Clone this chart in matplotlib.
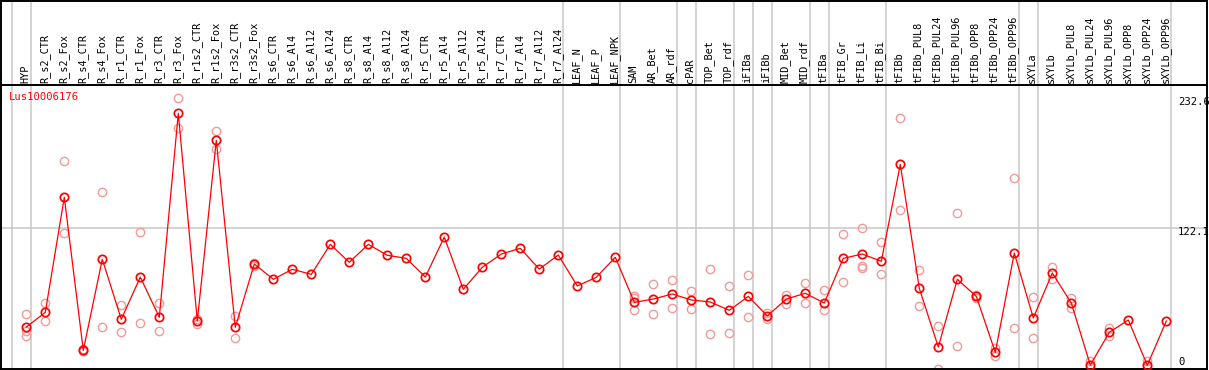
import numpy as np
import matplotlib
matplotlib.use("Agg")
import matplotlib.pyplot as plt

nan = np.nan

samples = ["HYP", "R_s2_CTR", "R_s2_Fox", "R_s4_CTR", "R_s4_Fox", "R_r1_CTR", "R_r1_Fox",
           "R_r3_CTR", "R_r3_Fox", "R_r1s2_CTR", "R_r1s2_Fox", "R_r3s2_CTR", "R_r3s2_Fox",
           "R_s6_CTR", "R_s6_Al4", "R_s6_Al12", "R_s6_Al24", "R_s8_CTR", "R_s8_Al4",
           "R_s8_Al12", "R_s8_Al24", "R_r5_CTR", "R_r5_Al4", "R_r5_Al12", "R_r5_Al24",
           "R_r7_CTR", "R_r7_Al4", "R_r7_Al12", "R_r7_Al24", "LEAF_N", "LEAF_P", "LEAF_NPK",
           "SAM", "AR_Bet", "AR_rdf", "cPAR", "TOP_Bet", "TOP_rdf", "iFIBa", "iFIBb",
           "MID_Bet", "MID_rdf", "tFIBa", "tFIB_Gr", "tFIB_Li", "tFIB_Bi", "tFIBb",
           "tFIBb_PUL8", "tFIBb_PUL24", "tFIBb_PUL96", "tFIBb_OPP8", "tFIBb_OPP24",
           "tFIBb_OPP96", "sXYLa", "sXYLb", "sXYLb_PUL8", "sXYLb_PUL24", "sXYLb_PUL96",
           "sXYLb_OPP8", "sXYLb_OPP24", "sXYLb_OPP96"]

mean_vals = [38.2, 50.7, 148.5, 18.4, 95.8, 44.8, 80.7, 46.5, 219.9, 43.3, 196.9, 38.0, 91.8,
             78.8, 87.3, 83.0, 108.5, 93.2, 108.5, 99.2, 96.6, 80.7, 114.7, 70.3, 89.0,
             100.3, 105.1, 87.5, 99.4, 73.1, 80.5, 97.5,
             59.2, 62.0, 66.3, 61.2, 59.5, 52.4, 64.3, 47.6, 62.0, 66.9, 58.6,
             96.6, 100.3, 94.1, 176.5, 71.1, 21.2, 78.8, 64.3, 16.7, 101.1,
             45.9, 84.1, 58.6, 5.9, 33.7, 44.2, 5.7, 43.3]

rep_hi = [49.3, 58.6, 179.3, 19.5, 153.0, 56.7, 118.7, 58.4, 232.6, 45.0, 204.8, 47.6, 93.0,
          nan, nan, nan, nan, nan, nan, nan, nan, nan, nan, nan, nan, nan, nan, nan, nan,
          nan, nan, nan,
          64.6, 74.8, 77.9, 68.8, 87.3, 72.8, 82.4, 49.9, 65.4, 75.6, 69.4,
          117.0, 122.1, 110.2, 215.9, 86.4, 39.4, 134.9, 65.5, 20.1, 164.9,
          63.5, 89.2, 63.2, 9.3, 37.1, nan, 9.3, nan]

rep_lo = [30.3, 43.1, 117.9, 17.5, 38.2, 33.7, 41.4, 34.6, 207.7, 40.5, 189.3, 28.9, 90.5,
          nan, nan, nan, nan, nan, nan, nan, nan, nan, nan, nan, nan, nan, nan, nan, nan,
          nan, nan, nan,
          52.7, 49.0, 54.1, 53.3, 32.0, 32.9, 46.5, 45.3, 57.5, 58.4, 52.7,
          76.5, 88.7, 83.0, 137.7, 55.8, 2.3, 22.1, 63.0, 13.9, 37.1,
          28.6, 78.8, 54.1, 4.5, 30.3, nan, 4.5, nan]

rep_extra = [34.5] + [nan] * 31 + [62.6] + [nan] * 11 + [90.4] + [nan] * 16

# last column of each group (a grey separator is drawn after it)
group_ends = [-1, 0, 28, 31, 34, 35, 37, 38, 39, 41, 42, 45, 52, 53, 60]

gene = "Lus10006176"
scale_labels = [232.6, 122.1]

W, H = 1209, 370
mono = "DejaVu Sans Mono"
grey = "#c8c8c8"
pink = "#f09a9a"

fig = plt.figure(figsize=(W / 100, H / 100), dpi=100)

# pixel geometry
left_px, right_px = 1, 1207
top_px, sep_px, bot_px = 0.5, 85, 369
x0_px, dx_px = 26.3, 19.0
xlim = ((left_px - x0_px) / dx_px, (right_px - x0_px) / dx_px)
ylim = ((372 - bot_px) / 1.1765, (372 - sep_px) / 1.1765)

ax = fig.add_axes([left_px / W, (H - bot_px) / H, (right_px - left_px) / W, (bot_px - sep_px) / H])
hx = fig.add_axes([left_px / W, (H - sep_px) / H, (right_px - left_px) / W, (sep_px - top_px) / H])

for a in (ax, hx):
    a.set_xlim(*xlim)
    a.set_xticks([])
    a.set_yticks([])
    for s in a.spines.values():
        s.set_color("black")
        s.set_linewidth(1.4)
    for g in group_ends:
        a.axvline(g + 0.23, color=grey, lw=1.1, zorder=0)
ax.set_ylim(*ylim)
hx.set_ylim(0, 1)

ax.axhline(scale_labels[1], color=grey, lw=1.1, zorder=0)

x = np.arange(len(samples))
for reps in (rep_hi, rep_lo, rep_extra):
    ax.plot(x, reps, ls="none", marker="o", ms=6.0, mfc="none", mec=pink, mew=1.0,
            clip_on=False, zorder=2)
ax.plot(x, mean_vals, color="red", lw=0.9, marker="o", ms=6.0, mfc="none", mec="red",
        mew=1.25, clip_on=False, zorder=3)

for i, name in enumerate(samples):
    hx.text(i - 0.05, 0.025, name, rotation=90, ha="center", va="bottom",
            family=mono, fontsize=7.4, color="black")

ax.annotate(gene, xy=(0, 1), xycoords="axes fraction", xytext=(8, -12),
            textcoords="offset pixels", ha="left", va="center", family=mono,
            fontsize=7.6, color="red")

lab_x = (1178 - x0_px) / dx_px
for v in scale_labels:
    ax.annotate(f"{v}", xy=(lab_x, v), xytext=(0, -4), textcoords="offset pixels",
                ha="left", va="center", family=mono, fontsize=7.6, color="black",
                annotation_clip=False)
ax.annotate("0", xy=(lab_x, ylim[0]), xytext=(0, 7), textcoords="offset pixels",
            ha="left", va="center", family=mono, fontsize=7.6, color="black")

fig.savefig("out.png", dpi=100)
